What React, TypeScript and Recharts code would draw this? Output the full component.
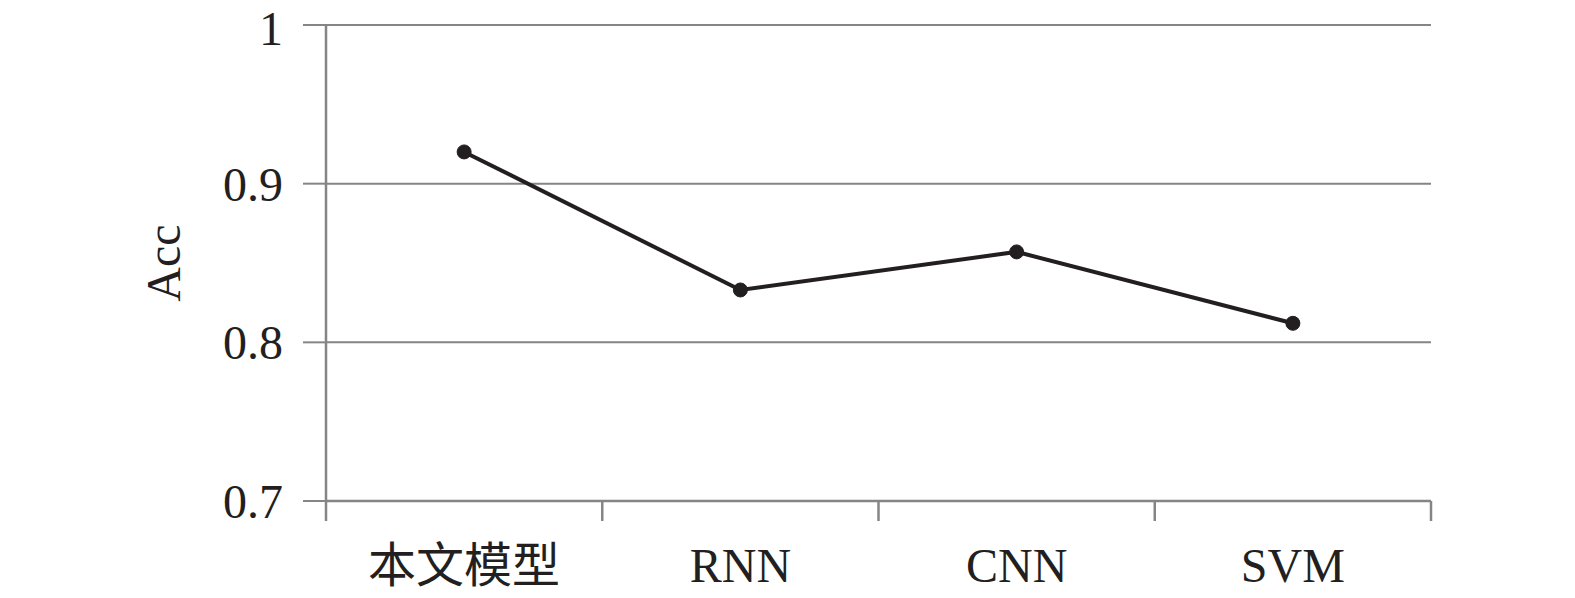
import { LineChart, Line, XAxis, YAxis, CartesianGrid, Text } from "recharts";

const models = ["本文模型", "RNN", "CNN", "SVM"];
const acc = [0.92, 0.833, 0.857, 0.812];
const yTicks = [0.7, 0.8, 0.9, 1];

const data = models.map((name, i) => ({ name, acc: acc[i] }));

const FONT = "'Liberation Serif', 'Noto Sans CJK SC', serif";
const INK = "#231f20";
const GREY = "#858585";
const TICK_LEN = 20;

// category label plus the boundary tick marks between bands
const BandTick = (props: any) => {
  const { x, y, payload, index, visibleTicksCount } = props;
  const half = payload.offset || 0;
  const top = y - TICK_LEN;
  const last = index === visibleTicksCount - 1;
  return (
    <g>
      <line x1={x - half} x2={x - half} y1={top} y2={y} stroke={GREY} strokeWidth={2.5} />
      {last && (
        <line x1={x + half} x2={x + half} y1={top} y2={y} stroke={GREY} strokeWidth={2.5} />
      )}
      <Text
        x={x}
        y={y + 27}
        textAnchor="middle"
        verticalAnchor="start"
        fontSize={48}
        fontFamily={FONT}
        fill={INK}
      >
        {payload.value}
      </Text>
    </g>
  );
};

export default function App() {
  return (
    <div style={{ position: "absolute", left: 0, top: 0, background: "#fff" }}>
      <LineChart
        width={1575}
        height={598}
        data={data}
        margin={{ top: 25, right: 144, bottom: 0, left: 0 }}
      >
        <CartesianGrid vertical={false} stroke={GREY} strokeWidth={2} />
        <XAxis
          dataKey="name"
          scale="band"
          height={97}
          axisLine={{ stroke: GREY, strokeWidth: 2.5 }}
          tickLine={false}
          tickSize={TICK_LEN}
          tickMargin={0}
          tick={<BandTick />}
        />
        <YAxis
          domain={[0.7, 1]}
          ticks={yTicks}
          width={326}
          axisLine={{ stroke: GREY, strokeWidth: 2.5 }}
          tickLine={{ stroke: GREY, strokeWidth: 2 }}
          tickSize={23}
          tickMargin={20}
          tick={{ fontSize: 48, fontFamily: FONT, fill: INK }}
          label={{
            value: "Acc",
            angle: -90,
            position: "center",
            fontSize: 48,
            fontFamily: FONT,
            fill: INK,
          }}
        />
        <Line
          dataKey="acc"
          stroke={INK}
          strokeWidth={4}
          dot={{ r: 7, fill: INK, stroke: INK, strokeWidth: 1 }}
          isAnimationActive={false}
        />
      </LineChart>
    </div>
  );
}
